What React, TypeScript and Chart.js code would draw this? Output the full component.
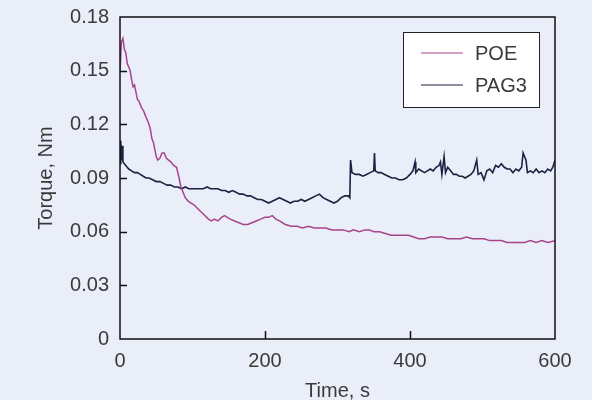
import React, { useEffect, useRef } from "react";
import { Chart, registerables } from "chart.js";

Chart.register(...registerables);

const poeTime = [0, 2, 4, 6, 8, 10, 12, 14, 16, 18, 20, 22, 24, 26, 28, 30, 32, 34, 36, 38, 40, 42, 44, 46, 48, 50, 52, 55, 58, 61, 64, 67, 70, 74, 78, 81, 84, 87, 90, 94, 98, 102, 107, 112, 117, 122, 126, 130, 135, 140, 144, 148, 152, 158, 164, 170, 176, 182, 188, 194, 200, 205, 210, 215, 220, 228, 236, 244, 252, 260, 268, 276, 284, 292, 300, 308, 316, 322, 330, 338, 344, 350, 358, 366, 374, 382, 390, 398, 405, 412, 420, 428, 436, 444, 452, 460, 470, 478, 486, 494, 502, 510, 518, 526, 534, 542, 550, 558, 566, 574, 582, 590, 600];
const poeTorque = [0.150, 0.166, 0.168, 0.162, 0.160, 0.154, 0.152, 0.150, 0.145, 0.141, 0.142, 0.138, 0.134, 0.133, 0.131, 0.129, 0.128, 0.126, 0.124, 0.122, 0.120, 0.117, 0.112, 0.110, 0.106, 0.102, 0.100, 0.101, 0.104, 0.104, 0.101, 0.100, 0.099, 0.097, 0.096, 0.091, 0.085, 0.082, 0.079, 0.077, 0.076, 0.075, 0.073, 0.071, 0.069, 0.067, 0.066, 0.067, 0.066, 0.068, 0.069, 0.068, 0.067, 0.066, 0.065, 0.064, 0.064, 0.065, 0.066, 0.067, 0.068, 0.068, 0.069, 0.067, 0.066, 0.064, 0.063, 0.063, 0.062, 0.063, 0.062, 0.062, 0.062, 0.061, 0.061, 0.061, 0.060, 0.061, 0.060, 0.061, 0.061, 0.060, 0.060, 0.059, 0.058, 0.058, 0.058, 0.058, 0.057, 0.056, 0.056, 0.057, 0.057, 0.057, 0.056, 0.056, 0.056, 0.057, 0.056, 0.056, 0.056, 0.055, 0.055, 0.055, 0.054, 0.054, 0.054, 0.054, 0.055, 0.054, 0.055, 0.054, 0.055];

const pagTime = [0, 1, 2, 3, 4, 8, 12, 16, 20, 24, 28, 32, 36, 40, 45, 50, 55, 60, 65, 70, 75, 80, 85, 90, 95, 100, 105, 110, 115, 120, 125, 130, 135, 140, 145, 150, 155, 160, 165, 170, 175, 180, 185, 190, 195, 200, 205, 210, 215, 220, 225, 230, 235, 240, 245, 250, 255, 260, 265, 270, 275, 280, 285, 290, 295, 300, 305, 310, 315, 317, 318, 320, 325, 330, 335, 340, 345, 350, 351, 352, 356, 360, 365, 370, 375, 380, 385, 390, 395, 400, 404, 407, 408, 412, 416, 420, 424, 428, 432, 436, 440, 442, 444, 447, 449, 452, 456, 460, 464, 468, 472, 476, 480, 484, 488, 492, 494, 498, 502, 506, 510, 514, 518, 522, 526, 530, 534, 538, 542, 546, 550, 554, 556, 558, 560, 562, 566, 570, 574, 578, 582, 586, 590, 594, 597, 600];
const pagTorque = [0.098, 0.111, 0.100, 0.108, 0.099, 0.097, 0.095, 0.094, 0.093, 0.093, 0.092, 0.091, 0.090, 0.090, 0.089, 0.088, 0.088, 0.087, 0.086, 0.086, 0.085, 0.085, 0.084, 0.085, 0.084, 0.084, 0.084, 0.084, 0.084, 0.085, 0.084, 0.084, 0.084, 0.083, 0.083, 0.082, 0.083, 0.082, 0.081, 0.081, 0.080, 0.080, 0.079, 0.078, 0.078, 0.077, 0.076, 0.077, 0.078, 0.079, 0.078, 0.077, 0.076, 0.077, 0.077, 0.078, 0.077, 0.078, 0.079, 0.080, 0.081, 0.079, 0.078, 0.077, 0.076, 0.077, 0.079, 0.080, 0.080, 0.079, 0.100, 0.093, 0.092, 0.092, 0.091, 0.092, 0.093, 0.094, 0.104, 0.094, 0.093, 0.093, 0.092, 0.091, 0.090, 0.090, 0.089, 0.089, 0.090, 0.092, 0.094, 0.099, 0.093, 0.095, 0.094, 0.093, 0.094, 0.095, 0.094, 0.096, 0.097, 0.099, 0.092, 0.102, 0.093, 0.096, 0.094, 0.092, 0.092, 0.091, 0.091, 0.090, 0.091, 0.092, 0.094, 0.100, 0.092, 0.093, 0.089, 0.094, 0.095, 0.093, 0.097, 0.096, 0.098, 0.096, 0.095, 0.095, 0.093, 0.095, 0.094, 0.096, 0.104, 0.102, 0.100, 0.093, 0.094, 0.093, 0.095, 0.093, 0.094, 0.093, 0.095, 0.094, 0.096, 0.100];

const seriesNames = ["POE", "PAG3"];
const seriesColors = ["#a8438c", "#1b2340"];
const xTitle = "Time, s";
const yTitle = "Torque, Nm";
const FONT = "'Liberation Sans', Arial, sans-serif";
const TEXT = "#3a3a3a";
const BG = "#e9eef8";

const framePlugin = {
  id: "frame",
  afterDatasetsDraw(chart: any) {
    const { ctx, chartArea: a, scales } = chart;
    ctx.save();
    ctx.strokeStyle = "#111";
    ctx.lineWidth = 1.5;
    // inward ticks
    ctx.beginPath();
    scales.y.ticks.forEach((t: any) => {
      if (t.value <= 0 || t.value >= 0.18) return;
      const y = Math.round(scales.y.getPixelForValue(t.value)) + 0.5;
      ctx.moveTo(a.left, y);
      ctx.lineTo(a.left + 7, y);
    });
    scales.x.ticks.forEach((t: any) => {
      if (t.value <= 0 || t.value >= 600) return;
      const x = Math.round(scales.x.getPixelForValue(t.value)) + 0.5;
      ctx.moveTo(x, a.bottom);
      ctx.lineTo(x, a.bottom - 8);
    });
    ctx.stroke();
    ctx.strokeRect(a.left, a.top, a.right - a.left, a.bottom - a.top);

    // legend
    const bw = 136, bh = 75;
    const bx = a.right - 16 - bw;
    const by = a.top + 15;
    ctx.fillStyle = "#fff";
    ctx.fillRect(bx, by, bw, bh);
    ctx.lineWidth = 1;
    ctx.strokeStyle = "#222";
    ctx.strokeRect(bx + 0.5, by + 0.5, bw, bh);
    ctx.font = `20px ${FONT}`;
    ctx.textBaseline = "middle";
    ctx.textAlign = "left";
    chart.data.datasets.forEach((ds: any, i: number) => {
      const y = by + 21 + i * 32;
      ctx.strokeStyle = ds.borderColor;
      ctx.lineWidth = 1.2;
      ctx.beginPath();
      ctx.moveTo(bx + 18, y);
      ctx.lineTo(bx + 60, y);
      ctx.stroke();
      ctx.fillStyle = TEXT;
      ctx.fillText(ds.label, bx + 72, y + 1.5);
    });
    ctx.restore();
  },
};

export default function App() {
  const ref = useRef<HTMLCanvasElement | null>(null);
  useEffect(() => {
    if (!ref.current) return;
    const chart = new Chart(ref.current, {
      type: "line",
      data: {
        datasets: [
          {
            label: seriesNames[0],
            data: poeTime.map((t, i) => ({ x: t, y: poeTorque[i] })),
            borderColor: seriesColors[0],
            borderWidth: 1.5,
            pointRadius: 0,
            tension: 0,
          },
          {
            label: seriesNames[1],
            data: pagTime.map((t, i) => ({ x: t, y: pagTorque[i] })),
            borderColor: seriesColors[1],
            borderWidth: 1.6,
            pointRadius: 0,
            tension: 0,
          },
        ],
      },
      options: {
        animation: false,
        responsive: false,
        devicePixelRatio: 1,
        layout: { padding: { left: 0, right: 37, top: 17, bottom: 0 } },
        plugins: { legend: { display: false }, tooltip: { enabled: false } },
        scales: {
          x: {
            type: "linear",
            min: 0,
            max: 600,
            grid: { display: false, drawTicks: false },
            border: { display: false },
            ticks: { stepSize: 200, padding: 10, color: TEXT, font: { family: FONT, size: 20 } },
            title: { display: true, text: xTitle, color: TEXT, font: { family: FONT, size: 20 }, padding: { top: 0, bottom: -3 } },
            afterFit: (s: any) => { s.height = 61; s.paddingLeft = 0; s.paddingRight = 0; },
          },
          y: {
            min: 0,
            max: 0.18,
            grid: { display: false, drawTicks: false },
            border: { display: false },
            ticks: {
              stepSize: 0.03,
              padding: 11,
              color: TEXT,
              font: { family: FONT, size: 20 },
              callback: (v: any) => (Number(v) === 0 ? "0" : Number(v).toFixed(2)),
            },
            title: { display: true, text: yTitle, color: TEXT, font: { family: FONT, size: 20 }, padding: { top: 34, bottom: 0 } },
            afterFit: (s: any) => { s.width = 120; s.paddingTop = 0; s.paddingBottom = 0; },
          },
        },
      },
      plugins: [framePlugin],
    });
    return () => chart.destroy();
  }, []);
  return (
    <div style={{ position: "fixed", left: 0, top: 0, width: 592, height: 400, background: BG }}>
      <canvas ref={ref} width={592} height={400} style={{ display: "block" }} />
    </div>
  );
}
